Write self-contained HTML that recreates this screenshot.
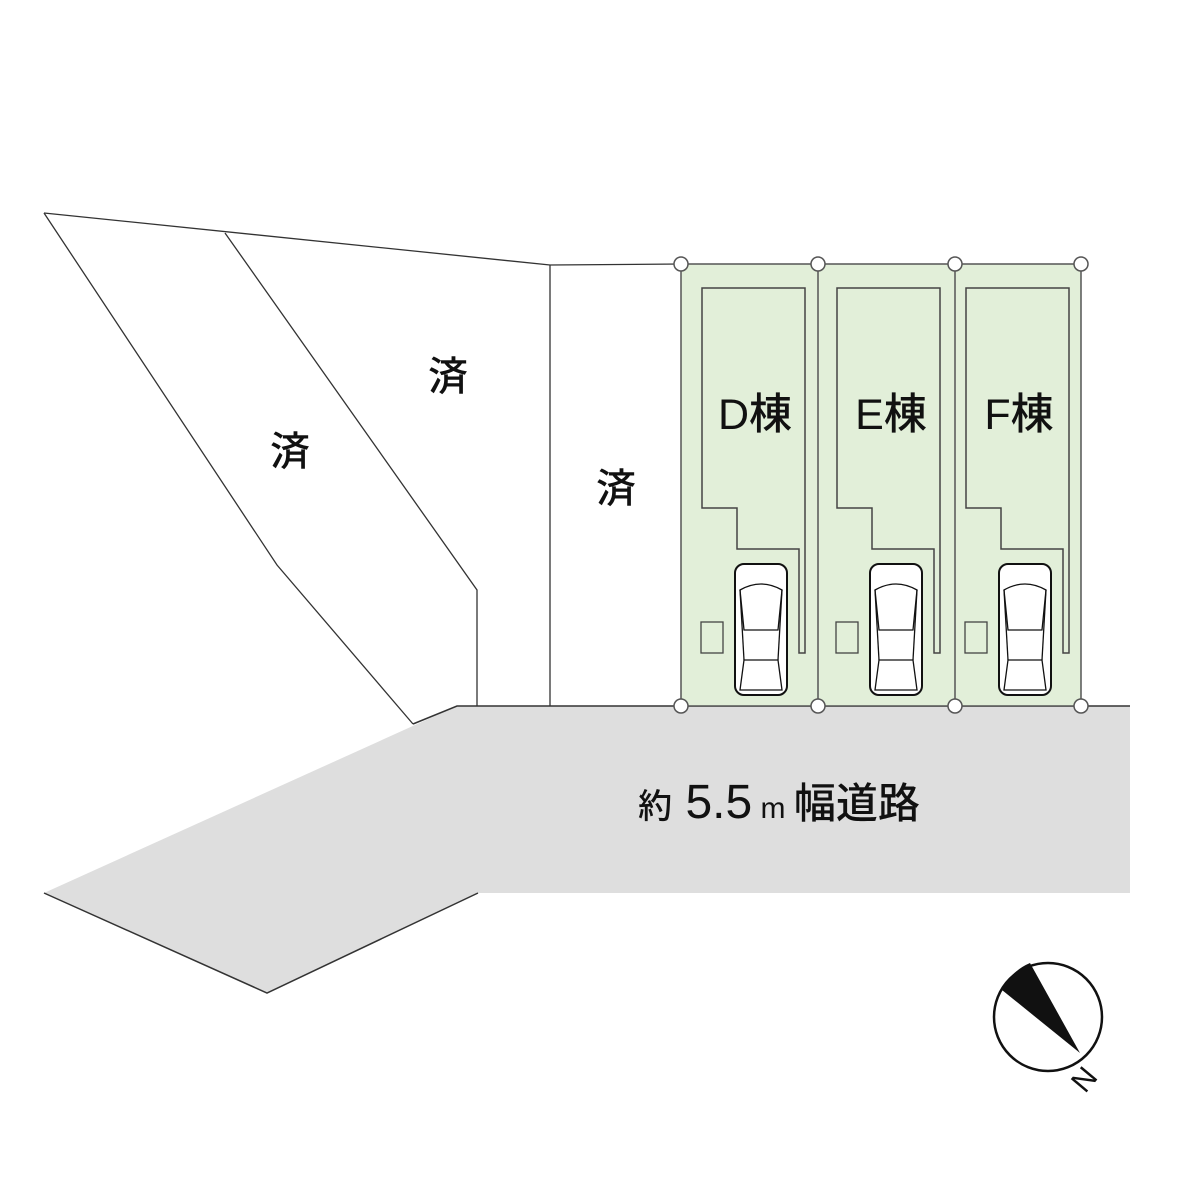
<!DOCTYPE html>
<html><head><meta charset="utf-8"><style>body{margin:0;background:#fff}svg{display:block}</style></head><body>
<svg width="1200" height="1200" viewBox="0 0 1200 1200" font-family="'Liberation Sans','Noto Sans CJK JP',sans-serif">
<rect width="1200" height="1200" fill="#fff"/>
<polygon points="457,706 1130,706 1130,893 478,893 267,993 44,893" fill="#dedede"/>
<polyline points="44,893 267,993 478,893" fill="none" stroke="#333" stroke-width="1.5"/>
<polyline points="413,724 457,706 1130,706" fill="none" stroke="#333" stroke-width="1.5"/>
<g fill="none" stroke="#333" stroke-width="1.3">
<polyline points="44,213 550,265 681,264"/>
<polyline points="44,213 277,565 413,724"/>
<polyline points="225,233 477,590 477,706"/>
<line x1="550" y1="265" x2="550" y2="706"/>
</g>
<g font-size="40" fill="#111" text-anchor="middle" font-weight="500">
<text x="448" y="390">済</text><text x="290" y="465">済</text><text x="616" y="502">済</text>
</g>
<rect x="681" y="264" width="400" height="442" fill="#e2efd9" stroke="#555" stroke-width="1.5"/>
<line x1="818" y1="264" x2="818" y2="706" stroke="#555" stroke-width="1.5"/>
<line x1="955" y1="264" x2="955" y2="706" stroke="#555" stroke-width="1.5"/>
<defs>
<g id="lot">
<path d="M702,288 L805,288 L805,653 L799,653 L799,549 L737,549 L737,508 L702,508 Z" fill="none" stroke="#444" stroke-width="1.5"/>
<rect x="701" y="622" width="22" height="31" fill="none" stroke="#444" stroke-width="1.3"/>
<g stroke="#111" fill="#fff" stroke-width="2">
<rect x="735" y="564" width="52" height="131" rx="9"/>
<path d="M740,590 Q761,578 782,590 L778,630 L744,630 Z" stroke-width="1.3"/>
<path d="M744,660 L778,660 L782,690 L740,690 Z" stroke-width="1.3"/>
<line x1="740" y1="590" x2="744" y2="660" stroke-width="1.3"/>
<line x1="782" y1="590" x2="778" y2="660" stroke-width="1.3"/>
</g>
</g>
</defs>
<use href="#lot"/>
<use href="#lot" transform="translate(135,0)"/>
<use href="#lot" transform="translate(264,0)"/>
<g fill="#fff" stroke="#555" stroke-width="1.5">
<circle cx="681" cy="264" r="7"/><circle cx="818" cy="264" r="7"/><circle cx="955" cy="264" r="7"/><circle cx="1081" cy="264" r="7"/>
<circle cx="681" cy="706" r="7"/><circle cx="818" cy="706" r="7"/><circle cx="955" cy="706" r="7"/><circle cx="1081" cy="706" r="7"/>
</g>
<g font-size="43" fill="#111" text-anchor="middle" font-weight="500">
<text x="755" y="429">D棟</text><text x="891" y="429">E棟</text><text x="1019" y="429">F棟</text>
</g>
<text x="779" y="818" fill="#111" text-anchor="middle" font-weight="500"><tspan font-size="34">約</tspan><tspan font-size="48"> 5.5</tspan><tspan font-size="30"> m </tspan><tspan font-size="42">幅道路</tspan></text>
<circle cx="1048" cy="1017" r="54" fill="#fff" stroke="#111" stroke-width="2.5"/>
<path d="M1080,1053 L1002,990 A54,54 0 0 1 1030,963 Z" fill="#111"/>
<text x="0" y="0" font-size="30" fill="#111" text-anchor="middle" transform="translate(1092,1086) rotate(-50)">N</text>
</svg>
</body></html>
